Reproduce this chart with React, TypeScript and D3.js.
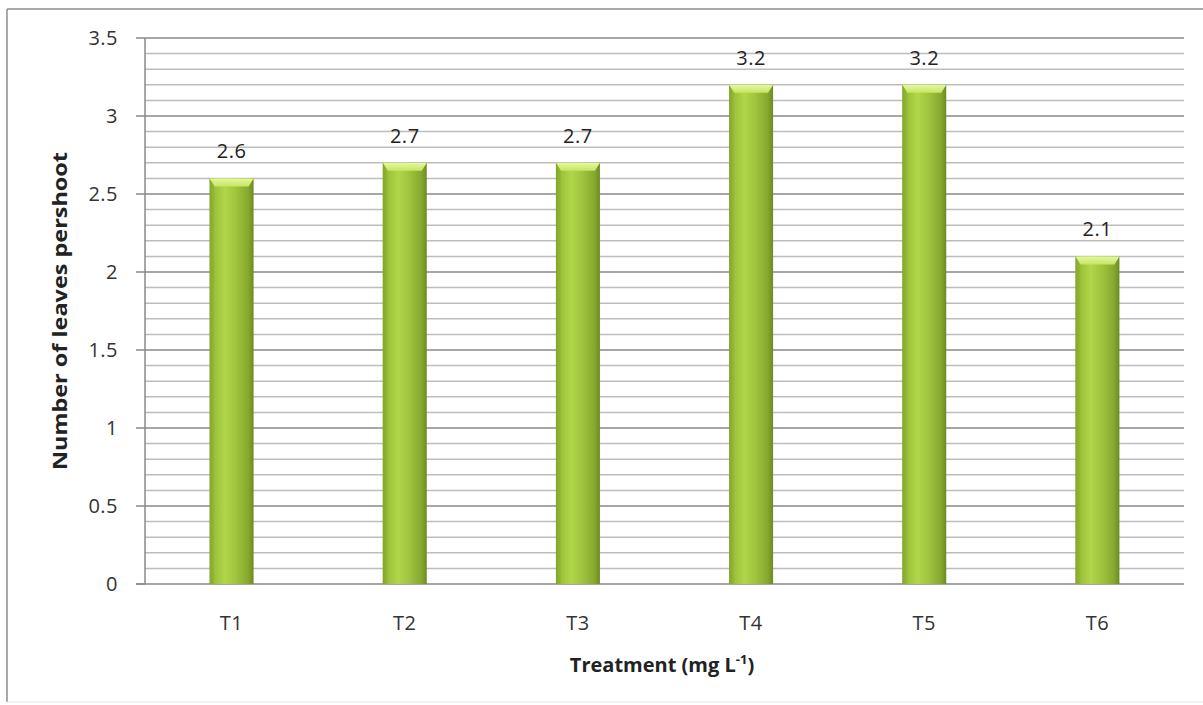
import React from "react";
import * as d3 from "d3";

const categories = ["T1", "T2", "T3", "T4", "T5", "T6"];
const values = [2.6, 2.7, 2.7, 3.2, 3.2, 2.1];
const majorTicks = [0, 0.5, 1, 1.5, 2, 2.5, 3, 3.5];

const W = 1203;
const H = 705;
const margin = { left: 145, right: 19, top: 38, bottom: 121 };
const FONT = "'Open Sans', 'Liberation Sans', sans-serif";

export default function App() {
  const x = d3
    .scaleBand<string>()
    .domain(categories)
    .range([margin.left, W - margin.right])
    .paddingInner(0)
    .paddingOuter(0);
  const y = d3.scaleLinear().domain([0, 3.5]).range([H - margin.bottom, margin.top]);
  const minorTicks = d3.range(0, 36).map((i) => i / 10).filter((v) => Math.round(v * 10) % 5 !== 0);
  const barW = 44;
  const x0 = margin.left;
  const x1 = W - margin.right;

  return (
    <svg
      width={W}
      height={H}
      style={{ position: "absolute", left: 0, top: 0, background: "#fff" }}
      fontFamily={FONT}
    >
      <defs>
        <linearGradient id="barGrad" x1="0" x2="1" y1="0" y2="0">
          <stop offset="0" stopColor="#7f9f2c" />
          <stop offset="0.12" stopColor="#9cc23a" />
          <stop offset="0.35" stopColor="#b0d64a" />
          <stop offset="0.6" stopColor="#a0c43e" />
          <stop offset="0.88" stopColor="#85a82e" />
          <stop offset="1" stopColor="#6c8a22" />
        </linearGradient>
        <linearGradient id="capGrad" x1="0" x2="0" y1="0" y2="1">
          <stop offset="0" stopColor="#e4f8a0" />
          <stop offset="1" stopColor="#c4e661" />
        </linearGradient>
      </defs>

      {/* chart frame */}
      <line x1={7} x2={W} y1={9} y2={9} stroke="#8c8c8c" strokeWidth={1.5} />
      <line x1={7} x2={7} y1={9} y2={H - 3} stroke="#8c8c8c" strokeWidth={1.5} />
      <line x1={7} x2={W} y1={H - 3} y2={H - 3} stroke="#e4e4e4" strokeWidth={1} />

      {/* minor gridlines */}
      {minorTicks.map((v) => (
        <line key={"m" + v} x1={x0} x2={x1} y1={y(v)} y2={y(v)} stroke="#bdbdbd" strokeWidth={1.5} />
      ))}
      {/* major gridlines */}
      {majorTicks.map((v) => (
        <line key={"M" + v} x1={v === 0 ? x0 - 9 : x0} x2={x1} y1={y(v)} y2={y(v)} stroke="#8a8a8a" strokeWidth={1.5} />
      ))}
      {/* y axis line and ticks */}
      <line x1={x0} x2={x0} y1={y(3.5)} y2={y(0)} stroke="#8a8a8a" strokeWidth={1.5} />
      {majorTicks.map((v) => (
        <line key={"t" + v} x1={x0 - 9} x2={x0} y1={y(v)} y2={y(v)} stroke="#8a8a8a" strokeWidth={1.5} />
      ))}
      {majorTicks.map((v) => (
        <text key={"l" + v} x={x0 - 27} y={y(v)} dy="0.36em" textAnchor="end" fontSize={20} letterSpacing={0.5} fill="#333">
          {String(v)}
        </text>
      ))}

      {/* bars */}
      {categories.map((c, i) => {
        const cx = (x(c) as number) + x.bandwidth() / 2;
        const bx = cx - barW / 2;
        const top = y(values[i]);
        const base = y(0);
        const cap = 8;
        return (
          <g key={c}>
            <rect x={bx} y={top} width={barW} height={base - top} fill="url(#barGrad)" />
            <polygon
              points={`${bx},${top} ${bx + barW},${top} ${bx + barW - 5},${top + cap} ${bx + 5},${top + cap}`}
              fill="url(#capGrad)"
            />
            <polygon
              points={`${bx},${top} ${bx + 5},${top + cap} ${bx + 5},${base} ${bx},${base}`}
              fill="#8db232"
              opacity={0.35}
            />
            <text x={cx} y={top - 20} textAnchor="middle" fontSize={20} letterSpacing={0.5} fill="#222">
              {values[i].toFixed(1)}
            </text>
            <text x={cx} y={y(0) + 46} textAnchor="middle" fontSize={20} letterSpacing={0.5} fill="#333">
              {c}
            </text>
          </g>
        );
      })}

      {/* axis titles */}
      <text x={662} y={672} textAnchor="middle" fontSize={20} fontWeight="bold" fill="#222">
        Treatment (mg L
        <tspan dy={-8} fontSize={13}>-1</tspan>
        <tspan dy={8}>)</tspan>
      </text>
      <text
        transform={`translate(67, ${(y(0) + y(3.5)) / 2}) rotate(-90)`}
        textAnchor="middle"
        fontSize={20}
        fontWeight="bold"
        fill="#222"
        textLength={318}
        lengthAdjust="spacingAndGlyphs"
      >
        Number of  leaves pershoot
      </text>
    </svg>
  );
}
